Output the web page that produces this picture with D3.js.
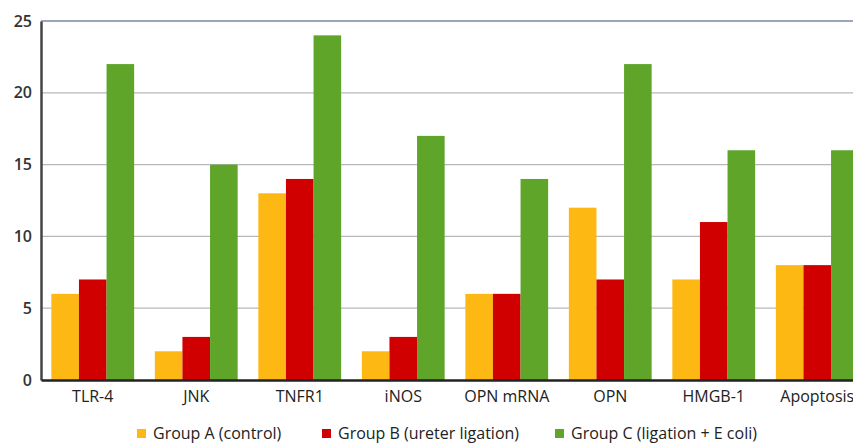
<!DOCTYPE html>
<html><head><meta charset="utf-8">
<script src="https://cdn.jsdelivr.net/npm/d3@7"></script>
<style>body{margin:0;background:#fff;overflow:hidden}svg{display:block}</style>
</head><body>
<svg id="c" width="853" height="443"></svg>
<script>
const categories = ["TLR-4","JNK","TNFR1","iNOS","OPN mRNA","OPN","HMGB-1","Apoptosis"];
const groupA = [6,2,13,2,6,12,7,8];
const groupB = [7,3,14,3,6,7,11,8];
const groupC = [22,15,24,17,14,22,16,16];
const seriesNames = ["Group A (control)","Group B (ureter ligation)","Group C (ligation + E coli)"];
const colors = ["#FDB813","#D00000","#5EA52A"];
const yTicks = [0,5,10,15,20,25];

const series = [groupA, groupB, groupC];
const svg = d3.select("#c");
const font = "'Open Sans', sans-serif";
const x = d3.scaleBand().domain(categories).range([41, 41 + 8*103.5]).paddingInner(0.2).paddingOuter(0.1);
const xs = d3.scaleBand().domain([0,1,2]).range([0, x.bandwidth()]);
const y = d3.scaleLinear().domain([0,25]).range([380,21]);

// gridlines
svg.append("g").selectAll("line").data(yTicks.filter(d=>d>0)).join("line")
  .attr("x1",41).attr("x2",853).attr("y1",d=>y(d)).attr("y2",d=>y(d))
  .attr("stroke",d=>d===25?"#9aa6bb":"#b8b8b8").attr("stroke-width",d=>d===25?2:1.3);

// bars
const g = svg.append("g");
categories.forEach((c,i)=>{
  series.forEach((s,j)=>{
    g.append("rect").attr("x",x(c)+xs(j)).attr("width",xs.bandwidth())
      .attr("y",y(s[i])).attr("height",y(0)-y(s[i])).attr("fill",colors[j]);
  });
});

// y axis
const ya = svg.append("g").attr("transform","translate(41,0)").call(d3.axisLeft(y).tickValues(yTicks).tickSize(0).tickPadding(9));
ya.select(".domain").attr("stroke","#444").attr("stroke-width",2.5);
ya.selectAll("text").attr("font-family",font).attr("font-size",16).attr("fill","#333").attr("font-weight",600);

// x axis
const xa = svg.append("g").attr("transform","translate(0,380)").call(d3.axisBottom(x).tickSize(0).tickPadding(11));
xa.select(".domain").attr("stroke","#222").attr("stroke-width",2.5);
xa.selectAll("text").attr("font-family",font).attr("font-size",16).attr("fill","#222");

// legend
const legX = [137, 322, 555];
const leg = svg.append("g");
seriesNames.forEach((n,j)=>{
  leg.append("rect").attr("x",legX[j]).attr("y",429).attr("width",9).attr("height",9).attr("fill",colors[j]);
  leg.append("text").attr("x",legX[j]+16).attr("y",439).attr("font-family",font).attr("font-size",16).attr("fill","#222").text(n);
});
</script>
</body></html>
